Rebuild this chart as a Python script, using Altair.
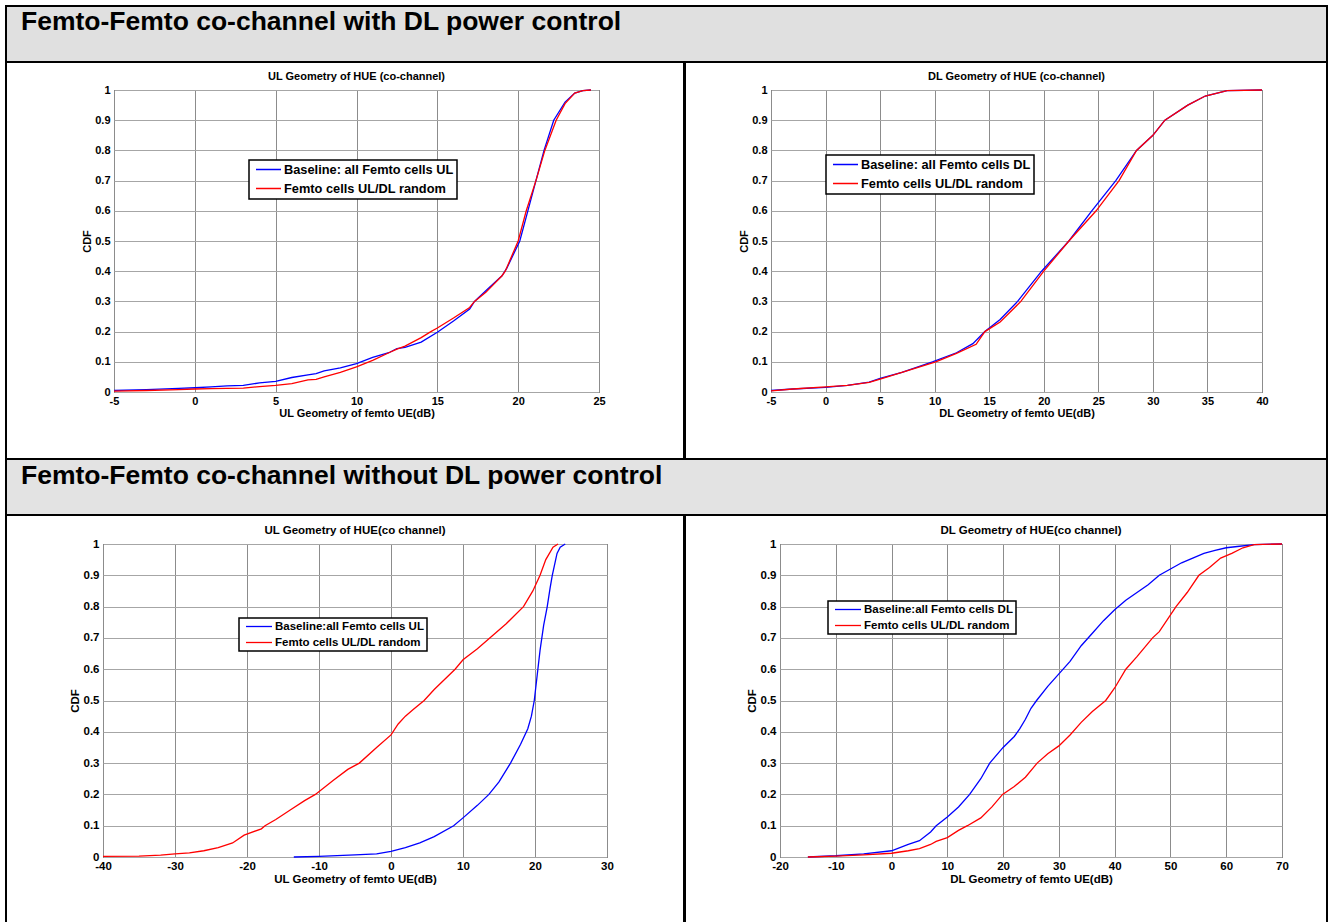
import altair as alt
import pandas as pd

FONT = "Liberation Sans"

HEAD_TOP = "Femto-Femto co-channel with DL power control"
HEAD_BOTTOM = "Femto-Femto co-channel without DL power control"

# --- UL geometry, with DL power control ---
ulpc_base_x = [-5, -3, -1, 0, 1, 2, 3, 4, 5, 6, 7, 7.5, 8, 9, 10, 11, 12, 12.5, 13, 14, 15, 16,
               17, 17.3, 18, 19, 19.3, 20.1, 20.6, 21.1, 21.6, 22.2, 22.9, 23.5, 24, 24.5]
ulpc_base_y = [0.005, 0.008, 0.012, 0.014, 0.017, 0.02, 0.022, 0.03, 0.035, 0.048, 0.057, 0.061,
               0.07, 0.08, 0.094, 0.115, 0.13, 0.144, 0.148, 0.165, 0.198, 0.235, 0.275, 0.3,
               0.335, 0.385, 0.41, 0.5, 0.6, 0.7, 0.8, 0.9, 0.96, 0.99, 0.998, 1.0]
ulpc_rand_x = [-5, -3, -1, 0, 1, 2, 3, 4, 5, 6, 7, 7.5, 8, 9, 10, 11, 12, 12.5, 13, 14, 14.6, 15,
               16, 17, 17.3, 18, 19, 19.2, 20.0, 20.5, 21.1, 21.65, 22.35, 22.9, 23.5, 24, 24.5]
ulpc_rand_y = [0.003, 0.005, 0.008, 0.01, 0.011, 0.012, 0.013, 0.018, 0.022, 0.028, 0.04, 0.042,
               0.05, 0.065, 0.083, 0.105, 0.13, 0.142, 0.152, 0.18, 0.2, 0.212, 0.245, 0.28, 0.3,
               0.33, 0.385, 0.4, 0.5, 0.6, 0.7, 0.8, 0.9, 0.955, 0.99, 0.998, 1.0]

# --- DL geometry, with DL power control ---
dlpc_base_x = [-5, -3, 0, 2, 4, 5, 7, 9.8, 12, 13.5, 14.6, 16, 17.6, 19.8, 22.3, 24.4, 26.6, 28.5,
               30, 31.1, 33.2, 34.8, 36.8, 40]
dlpc_base_y = [0.005, 0.01, 0.015, 0.022, 0.033, 0.045, 0.065, 0.1, 0.13, 0.16, 0.2, 0.24, 0.3,
               0.4, 0.5, 0.6, 0.7, 0.8, 0.85, 0.9, 0.95, 0.98, 0.998, 1.0]
dlpc_rand_x = [-5, -3, 0, 2, 4, 5, 7, 10.1, 12, 13.8, 14.6, 16, 17.9, 20.0, 22.3, 24.8, 26.9, 28.5,
               30, 31.1, 33.2, 34.8, 36.8, 40]
dlpc_rand_y = [0.004, 0.01, 0.017, 0.022, 0.032, 0.043, 0.065, 0.1, 0.128, 0.158, 0.2, 0.232, 0.3,
               0.4, 0.5, 0.6, 0.7, 0.8, 0.85, 0.9, 0.95, 0.98, 0.998, 1.0]

# --- UL geometry, without DL power control ---
ul_base_x = [-13.5, -10, -5, -2, 0, 2, 4, 6, 8.7, 10, 12, 13.6, 15, 16.6, 18, 19, 19.5, 19.9, 20.3,
             20.7, 21.2, 21.7, 22.1, 22.4, 23.06, 23.5, 24.2]
ul_base_y = [0.0, 0.002, 0.007, 0.01, 0.018, 0.03, 0.045, 0.065, 0.1, 0.125, 0.165, 0.2, 0.24, 0.3,
             0.36, 0.41, 0.45, 0.5, 0.58, 0.66, 0.74, 0.8, 0.86, 0.9, 0.97, 0.99, 1.0]
ul_rand_x = [-40, -35, -32, -30, -28, -26, -24, -22, -20.4, -18, -17.5, -16, -14, -12, -10.5, -8,
             -6, -4.4, -2, 0, 1, 2, 3, 4.6, 6, 8.9, 10, 12, 14, 16, 18.4, 19.7, 20.7, 21.5, 22.5,
             23.2]
ul_rand_y = [0.002, 0.003, 0.006, 0.01, 0.013, 0.02, 0.03, 0.045, 0.07, 0.09, 0.1, 0.12, 0.15,
             0.18, 0.2, 0.245, 0.28, 0.3, 0.35, 0.39, 0.425, 0.45, 0.47, 0.5, 0.535, 0.6, 0.63,
             0.665, 0.705, 0.745, 0.8, 0.85, 0.9, 0.95, 0.99, 1.0]

# --- DL geometry, without DL power control ---
dl_base_x = [-15, -10, -5, 0, 3, 5, 7, 8, 10, 12, 14, 16, 17.6, 20, 22, 23, 24, 25, 26, 28, 30,
             32, 34, 36, 38, 40, 42, 44, 46, 48, 50, 52, 54, 56, 58, 60, 62, 65, 70]
dl_base_y = [0.0, 0.004, 0.01, 0.02, 0.04, 0.052, 0.08, 0.1, 0.128, 0.16, 0.2, 0.25, 0.3, 0.35,
             0.385, 0.41, 0.44, 0.475, 0.5, 0.545, 0.585, 0.625, 0.675, 0.715, 0.755, 0.79, 0.82,
             0.845, 0.87, 0.9, 0.92, 0.94, 0.955, 0.97, 0.98, 0.988, 0.992, 0.998, 1.0]
dl_rand_x = [-15, -10, -5, 0, 3, 5, 7, 8, 10, 12, 13.6, 16, 18, 19.9, 22, 24, 26.1, 28, 30, 32, 34,
             36, 38.4, 40, 42, 44, 46.8, 48, 51, 53, 55.1, 57, 59, 61, 63, 65, 70]
dl_rand_y = [0.0, 0.003, 0.007, 0.012, 0.02, 0.027, 0.04, 0.05, 0.062, 0.085, 0.1, 0.125, 0.16,
             0.2, 0.225, 0.255, 0.3, 0.33, 0.355, 0.39, 0.43, 0.465, 0.5, 0.54, 0.6, 0.64, 0.7,
             0.72, 0.8, 0.845, 0.9, 0.925, 0.955, 0.97, 0.988, 0.998, 1.0]

CDF_TICKS = [0, 0.1, 0.2, 0.3, 0.4, 0.5, 0.6, 0.7, 0.8, 0.9, 1]


def cdf_panel(title, xtitle, xdomain, xticks, base_label, rand_label, base, rand,
              width, height, legend_xy, fs_tick, fs_title, fs_legend, legend_row_h,
              legend_row_pad, sample_len, x_title_pad):
    df = pd.concat([
        pd.DataFrame({"x": base[0], "cdf": base[1], "series": base_label, "k": range(len(base[0]))}),
        pd.DataFrame({"x": rand[0], "cdf": rand[1], "series": rand_label, "k": range(len(rand[0]))}),
    ])
    return alt.Chart(df).mark_line(strokeWidth=1.3).encode(
        x=alt.X("x:Q",
                scale=alt.Scale(domain=xdomain, nice=False, zero=False),
                axis=alt.Axis(values=xticks, title=xtitle, labelFlush=False, labelOverlap=False,
                              labelExpr="'' + datum.value",
                              labelFontSize=fs_tick, titleFontSize=fs_title,
                              labelPadding=3, titlePadding=x_title_pad, gridColor="#8c8c8c")),
        y=alt.Y("cdf:Q",
                scale=alt.Scale(domain=[0, 1], nice=False),
                axis=alt.Axis(values=CDF_TICKS, format="~g", title="CDF", labelOverlap=False,
                              labelFontSize=fs_tick, titleFontSize=fs_title,
                              labelPadding=4, titlePadding=2.5, gridColor="#a6a6a6")),
        color=alt.Color("series:N",
                        scale=alt.Scale(domain=[base_label, rand_label],
                                        range=["#0000ff", "#ff0000"]),
                        legend=alt.Legend(orient="none", legendX=legend_xy[0], legendY=legend_xy[1],
                                          title=None, fillColor="white", strokeColor="black",
                                          padding=3, symbolType="stroke",
                                          symbolSize=sample_len * sample_len,
                                          symbolOffset=3, symbolStrokeWidth=1.3,
                                          clipHeight=legend_row_h, labelFont=FONT,
                                          labelFontSize=fs_legend, labelFontWeight="bold",
                                          labelColor="black", labelOffset=2, labelLimit=400,
                                          rowPadding=legend_row_pad)),
        order="k:Q",
    ).properties(
        width=width, height=height,
        title=alt.TitleParams(title, font=FONT, fontSize=fs_title, fontWeight="bold",
                              color="black", offset=2),
        view=alt.ViewBackground(stroke="black", strokeWidth=1, fill="white"),
    )


def spacer(w, h):
    return alt.Chart(pd.DataFrame({"v": [0]})).mark_point(opacity=0, size=0).encode(
        x=alt.value(w / 2), y=alt.value(h / 2)
    ).properties(width=w, height=h)


TABLE_W = 1321
HEAD_H = 56
TABLE_BOTTOM = 916
MID_X = 678.5
ROW1_H = 302
ROW2_H = 313

p1 = cdf_panel("UL Geometry of HUE (co-channel)", "UL Geometry of femto UE(dB)",
               [-5, 25], [-5, 0, 5, 10, 15, 20, 25],
               "Baseline: all Femto cells UL", "Femto cells UL/DL random",
               (ulpc_base_x, ulpc_base_y), (ulpc_rand_x, ulpc_rand_y),
               485, ROW1_H, (135, 70), 11, 11, 12.8, 13, 5, 25, 1)
p2 = cdf_panel("DL Geometry of HUE (co-channel)", "DL Geometry of femto UE(dB)",
               [-5, 40], [-5, 0, 5, 10, 15, 20, 25, 30, 35, 40],
               "Baseline: all Femto cells DL", "Femto cells UL/DL random",
               (dlpc_base_x, dlpc_base_y), (dlpc_rand_x, dlpc_rand_y),
               491, ROW1_H, (55, 65), 11, 11, 12.8, 13, 5, 25, 1)
p3 = cdf_panel("UL Geometry of HUE(co channel)", "UL Geometry of femto UE(dB)",
               [-40, 30], [-40, -30, -20, -10, 0, 10, 20, 30],
               "Baseline:all Femto cells UL", "Femto cells UL/DL random",
               (ul_base_x, ul_base_y), (ul_rand_x, ul_rand_y),
               504, ROW2_H, (136, 74), 11.5, 11.5, 11.5, 11, 4, 26, 2)
p4 = cdf_panel("DL Geometry of HUE(co channel)", "DL Geometry of femto UE(dB)",
               [-20, 70], [-20, -10, 0, 10, 20, 30, 40, 50, 60, 70],
               "Baseline:all Femto cells DL", "Femto cells UL/DL random",
               (dl_base_x, dl_base_y), (dl_rand_x, dl_rand_y),
               502, ROW2_H, (48, 57), 11.5, 11.5, 11.5, 11, 4, 26, 2)

one = pd.DataFrame({"v": [0]})

# Top header band; it also carries the table's vertical rules for the full height
header_top = alt.layer(
    alt.Chart(pd.DataFrame({"label": [HEAD_TOP]})).mark_text(
        align="left", baseline="alphabetic", font=FONT, fontSize=26.5, fontWeight="bold",
        color="black").encode(x=alt.value(15), y=alt.value(23.5), text="label:N"),
    alt.Chart(one).mark_rule(color="black", strokeWidth=2).encode(
        x=alt.value(0), y=alt.value(0), y2=alt.value(TABLE_BOTTOM)),
    alt.Chart(one).mark_rule(color="black", strokeWidth=2).encode(
        x=alt.value(TABLE_W), y=alt.value(0), y2=alt.value(TABLE_BOTTOM)),
    alt.Chart(one).mark_rule(color="black", strokeWidth=3).encode(
        x=alt.value(MID_X), y=alt.value(HEAD_H), y2=alt.value(TABLE_BOTTOM)),
).properties(width=TABLE_W, height=HEAD_H,
             view=alt.ViewBackground(fill="#e0e0e0", stroke="black", strokeWidth=2))

header_bottom = alt.Chart(pd.DataFrame({"label": [HEAD_BOTTOM]})).mark_text(
    align="left", baseline="alphabetic", font=FONT, fontSize=26.5, fontWeight="bold",
    color="black").encode(x=alt.value(15), y=alt.value(24.5), text="label:N").properties(
    width=TABLE_W, height=HEAD_H,
    view=alt.ViewBackground(fill="#e3e3e3", stroke="black", strokeWidth=2))

row_top = alt.hconcat(spacer(108, ROW1_H), p1, spacer(172, ROW1_H), p2,
                      spacing=0, bounds="flush").resolve_scale(
    color="independent").resolve_legend(color="independent")
row_bottom = alt.hconcat(spacer(97, ROW2_H), p3, spacer(173, ROW2_H), p4,
                         spacing=0, bounds="flush").resolve_scale(
    color="independent").resolve_legend(color="independent")

# In the flush outer stack a nested row takes no height of its own,
# so the gap below each row also reserves the row's plot height.
chart = alt.vconcat(
    header_top,
    spacer(TABLE_W, 28),
    row_top,
    spacer(TABLE_W, ROW1_H + 67),
    header_bottom,
    spacer(TABLE_W, 29),
    row_bottom,
    spacing=0, bounds="flush",
).resolve_scale(color="independent").resolve_legend(color="independent").properties(
    padding={"left": 4, "top": 4, "right": 0, "bottom": 0},
    background="white",
).configure_view(stroke="transparent").configure_axis(
    labelFont=FONT, titleFont=FONT, labelFontWeight="bold", titleFontWeight="bold",
    labelColor="black", titleColor="black", ticks=False, domain=False, grid=True,
    gridWidth=1, gridOpacity=1,
).configure_legend(strokeWidth=1.5)

chart.save("out.html", embed_options={"renderer": "svg", "actions": False})
